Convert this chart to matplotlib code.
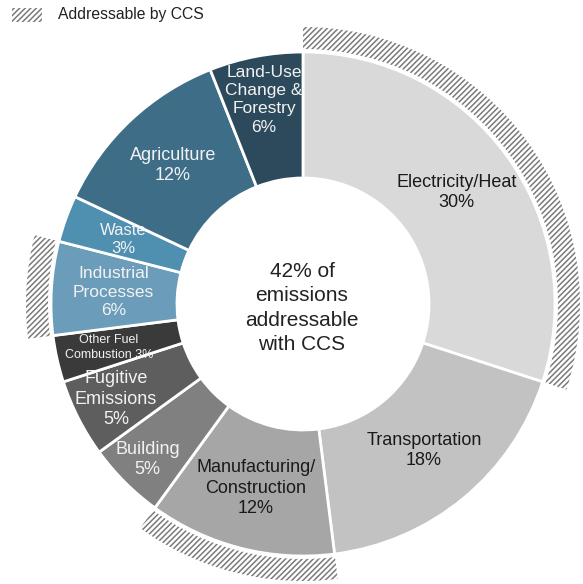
import matplotlib
matplotlib.use('Agg')
import matplotlib.pyplot as plt
from matplotlib.patches import Wedge, Rectangle
import numpy as np

plt.rcParams['font.family'] = ['Liberation Sans', 'DejaVu Sans']
plt.rcParams['hatch.color'] = '#7a7a7a'
plt.rcParams['hatch.linewidth'] = 1.1

# emissions by sector, clockwise from the top
sectors = ['Electricity/Heat', 'Transportation', 'Manufacturing/\nConstruction',
           'Building', 'Fugitive\nEmissions', 'Other Fuel\nCombustion',
           'Industrial\nProcesses', 'Waste', 'Agriculture',
           'Land-Use\nChange &\nForestry']
shares = [30, 18, 12, 5, 5, 3, 6, 3, 12, 6]
ccs = [True, False, True, False, False, False, True, False, False, False]
center_text = '42% of\nemissions\naddressable\nwith CCS'

colors = ['#d9d9d9', '#c2c2c2', '#a6a6a6', '#808080', '#5e5e5e', '#3a3a3a',
          '#6b9dbb', '#4f8fb0', '#3e6e87', '#2c4a5b']
text_colors = ['#1a1a1a'] * 3 + ['#f2f2f2'] * 7
label_r = [190, 190, 190, 220, 210, 199, 190, 191, 190, 208]
label_size = [13, 13, 13, 13, 13, 9, 12.5, 12, 13, 12.5]

cx, cy = 303, 280
R, ring_w = 252, 126

fig = plt.figure(figsize=(5.83, 5.84), dpi=100)
ax = fig.add_axes([0, 0, 1, 1])

wedges, _ = ax.pie(shares, startangle=90, counterclock=False, radius=R,
                   center=(cx, cy), colors=colors,
                   wedgeprops=dict(width=ring_w, edgecolor='white', linewidth=2))

for w, name, val, hit, tc, r, fs in zip(wedges, sectors, shares, ccs,
                                        text_colors, label_r, label_size):
    mid = np.deg2rad((w.theta1 + w.theta2) / 2)
    sep = ' ' if name.startswith('Other') else '\n'
    ax.text(cx + r * np.cos(mid), cy + r * np.sin(mid), f'{name}{sep}{val}%',
            ha='center', va='center', color=tc, fontsize=fs, linespacing=1.28)
    if hit:
        # hatched outer band for sectors addressable by CCS
        ax.add_patch(Wedge((cx, cy), R + 25, w.theta1, w.theta2, width=22,
                           facecolor='white', edgecolor='#7a7a7a', linewidth=0,
                           hatch='//////'))

ax.text(302, 584 - 308, center_text, ha='center', va='center',
        fontsize=15, color='#222222', linespacing=1.36)

# legend
ax.add_patch(Rectangle((12, 584 - 22), 30, 14, facecolor='white',
                       edgecolor='#7a7a7a', linewidth=0, hatch='//////'))
ax.text(58, 584 - 15, 'Addressable by CCS', ha='left', va='center',
        fontsize=11.3, color='#222222')

ax.set_xlim(0, 583)
ax.set_ylim(0, 584)
ax.set_aspect('auto')
ax.axis('off')

fig.savefig('out.png', dpi=100)
